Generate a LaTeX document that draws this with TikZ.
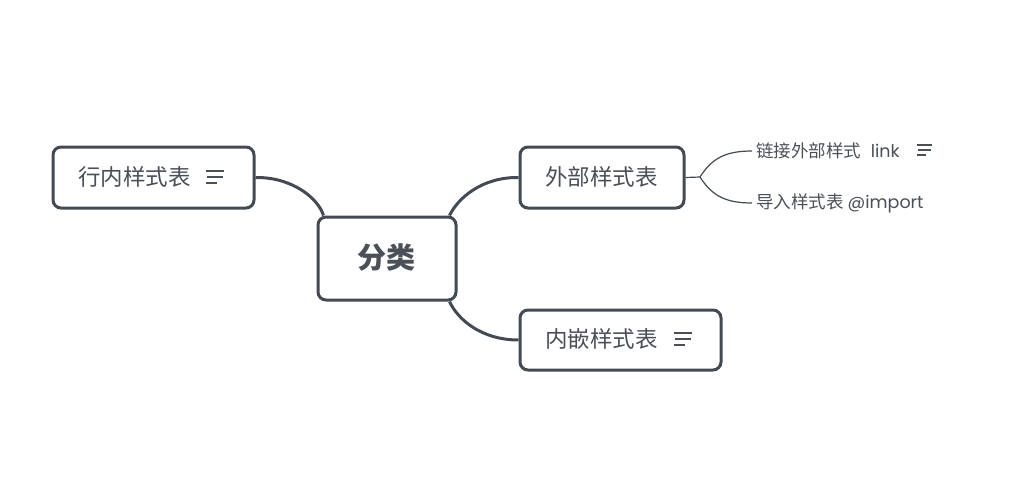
\documentclass[tikz,border=0pt]{standalone}
\usepackage{fontspec}
\setmainfont{Noto Sans CJK SC}
\newfontfamily\latn{Poppins}
\usetikzlibrary{calc}
\definecolor{ink}{HTML}{434A54}
\definecolor{txt}{HTML}{4A4F58}
\tikzset{
  box/.style={draw=ink, line width=3pt, rounded corners=8pt, fill=white, inner sep=0pt},
  lbl/.style={text=txt, inner sep=0pt, anchor=west, font=\fontsize{22.5}{25}\selectfont},
  sublbl/.style={text=txt, inner sep=0pt, anchor=west, font=\fontsize{17.5}{20}\selectfont},
  conn/.style={draw=ink, line width=3pt},
  thin/.style={draw=ink, line width=1.2pt},
  note/.style={draw=txt, line width=1.5pt},
}
\begin{document}
\begin{tikzpicture}[x=1pt,y=-1pt]
\useasboundingbox (0,0) rectangle (1010,479);
% boxes
\node[box, minimum width=201pt, minimum height=61pt] (b1) at (153.5,177.5) {};
\node[box, minimum width=138pt, minimum height=83pt] (root) at (387,258.5) {};
\node[box, minimum width=164pt, minimum height=61pt] (b2) at (602,177.5) {};
\node[box, minimum width=201pt, minimum height=60pt] (b3) at (620.5,340) {};
% labels
\node[lbl] (t1) at (78,177) {行内样式表};
\node[text=txt, inner sep=0pt, font=\fontsize{29}{32}\selectfont\bfseries] (troot) at (386,258) {分类};
\node[lbl] (t2) at (545,177) {外部样式表};
\node[lbl] (t3) at (545,339) {内嵌样式表};
\node[sublbl] (s1) at (756,151) {链接外部样式\hspace{0.55em}{\latn\fontsize{17.5}{20}\selectfont link}};
\node[sublbl] (s2) at (756,203) {导入样式表 {\latn\fontsize{17.5}{20}\selectfont @import}};
% note icons
\draw[note] (206,171) -- (224,171) (207,177) -- (223,177) (206,183) -- (217,183);
\draw[note] (674,333) -- (692,333) (675,339) -- (691,339) (674,345) -- (685,345);
\draw[note] (917,145) -- (932,145) (918,150) -- (931,150) (917,155) -- (926,155);
% connectors
\coordinate (rtl) at ($(root.north west)+(7,0)$);
\coordinate (rtr) at ($(root.north east)+(-8,0)$);
\coordinate (rbr) at ($(root.south east)+(-8,0)$);
\draw[conn] (b1.east) .. controls (292,177) and (318,198) .. (rtl);
\draw[conn] (rtr) .. controls (458,198) and (482,177) .. (b2.west);
\draw[conn] (rbr) .. controls (458,320) and (482,340) .. (b3.west);
\coordinate (fork) at (700,177);
\draw[thin] (b2.east) -- (fork);
\draw[thin, shorten >=4pt] (fork) .. controls (712,158) and (726,151) .. (s1.west);
\draw[thin, shorten >=4pt] (fork) .. controls (712,196) and (726,203) .. (s2.west);
\end{tikzpicture}
\end{document}
